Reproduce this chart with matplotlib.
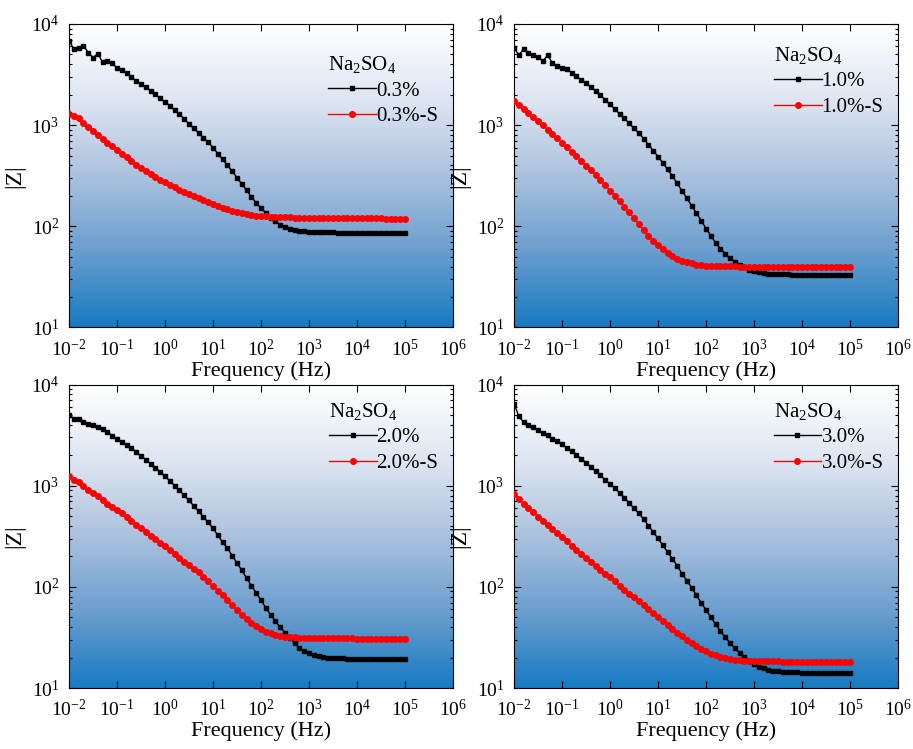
import matplotlib
matplotlib.use("Agg")
import matplotlib.pyplot as plt
import numpy as np
from matplotlib.colors import LinearSegmentedColormap

plt.rcParams['font.family'] = ['Liberation Serif', 'DejaVu Serif']
plt.rcParams['mathtext.fontset'] = 'custom'
plt.rcParams['mathtext.rm'] = 'Liberation Serif'
plt.rcParams['mathtext.it'] = 'Liberation Serif:italic'
plt.rcParams['mathtext.bf'] = 'Liberation Serif:bold'
plt.rcParams['axes.unicode_minus'] = False

# frequency sweep, 10 points per decade (Hz)
freq = [0.01, 0.0126, 0.0158, 0.02, 0.0251, 0.0316, 0.0398, 0.0501, 0.0631, 0.0794,
        0.1, 0.126, 0.158, 0.2, 0.251, 0.316, 0.398, 0.501, 0.631, 0.794,
        1, 1.26, 1.58, 2, 2.51, 3.16, 3.98, 5.01, 6.31, 7.94,
        10, 12.6, 15.8, 20, 25.1, 31.6, 39.8, 50.1, 63.1, 79.4,
        100, 126, 158, 200, 251, 316, 398, 501, 631, 794,
        1000, 1260, 1580, 2000, 2510, 3160, 3980, 5010, 6310, 7940,
        10000, 12600, 15800, 20000, 25100, 31600, 39800, 50100, 63100, 79400,
        100000]

# |Z| for each electrolyte concentration (ohm)
z_03 = [6850, 5640, 5770, 6120, 5220, 4660, 5070, 4200, 4300, 4160,
        3630, 3470, 3270, 2980, 2730, 2550, 2360, 2190, 2010, 1840,
        1700, 1555, 1410, 1290, 1150, 1030, 927, 835, 750, 680,
        598, 524, 459, 402, 350, 302, 262, 227, 196, 170,
        151, 136, 122, 112, 104, 98.6, 94.8, 92.7, 90.7, 89.3,
        88.7, 88.2, 87.8, 87.5, 87.2, 87.0, 86.8, 86.7, 86.6, 86.5,
        86.4, 86.4, 86.3, 86.3, 86.2, 86.2, 86.1, 86.1, 86.0, 86.0, 86.0]
z_03s = [1300, 1220, 1175, 1040, 957, 874, 798, 734, 670, 616,
         572, 522, 488, 445, 407, 380, 352, 329, 307, 289,
         272, 256, 243, 230, 218, 209, 198, 189, 181, 173,
         165, 157, 152, 147, 143, 139, 136, 132, 130, 127,
         126, 125, 124.5, 124, 123.5, 123, 122.5, 122, 122, 121.5,
         121.5, 121, 121, 121, 120.5, 120.5, 120.5, 120, 120, 120,
         120, 120, 119.5, 119.5, 119.5, 119.5, 119, 119, 119, 119, 118.5]
z_10 = [5810, 4920, 5640, 5190, 4990, 4700, 4290, 4920, 4100, 3880,
        3630, 3550, 3310, 3030, 2810, 2600, 2380, 2190, 2000, 1770,
        1600, 1440, 1290, 1165, 1040, 927, 835, 734, 641, 560,
        488, 423, 365, 314, 265, 224, 189, 160, 135, 114,
        94.8, 80.9, 69.0, 60.2, 53.4, 48.3, 44.5, 41.9, 39.4, 37.4,
        36.0, 35.2, 34.7, 34.1, 33.8, 33.6, 33.5, 33.4, 33.3, 33.3,
        33.2, 33.2, 33.2, 33.1, 33.1, 33.1, 33.1, 33.0, 33.0, 33.0, 33.0]
z_10s = [1740, 1580, 1440, 1316, 1200, 1105, 1000, 901, 817, 739,
         670, 608, 546, 491, 442, 398, 357, 322, 287, 254,
         225, 201, 177, 155, 137, 120, 105, 92, 80.9, 72.3,
         65.0, 59.3, 54.2, 50.6, 48.0, 45.8, 44.1, 42.9, 41.9, 41.2,
         40.6, 40.4, 40.3, 40.2, 40.2, 40.1, 40.1, 40.0, 40.0, 40.0,
         40.0, 40.0, 40.0, 40.0, 39.9, 39.9, 39.9, 39.9, 39.9, 39.9,
         39.8, 39.8, 39.8, 39.8, 39.8, 39.8, 39.7, 39.7, 39.7, 39.7, 39.7]
z_20 = [5050, 4600, 4570, 4300, 4110, 3990, 3840, 3640, 3370, 3130,
        2900, 2710, 2550, 2340, 2160, 1970, 1810, 1650, 1510, 1370,
        1240, 1115, 1000, 899, 802, 716, 630, 557, 493, 433,
        381, 322, 277, 240, 204, 172, 146, 122, 103, 87,
        74, 61.9, 53.2, 45.7, 39.9, 35.3, 31.5, 27.7, 25.1, 23.2,
        22.0, 21.2, 20.6, 20.3, 19.9, 19.8, 19.7, 19.6, 19.5, 19.5,
        19.4, 19.4, 19.4, 19.3, 19.3, 19.3, 19.3, 19.2, 19.2, 19.2, 19.2]
z_20s = [1256, 1145, 1078, 984, 912, 845, 783, 716, 663, 615,
         574, 532, 490, 450, 411, 381, 348, 320, 294, 273,
         251, 231, 212, 194, 178, 164, 151, 139, 125, 113,
         102, 92, 83, 74, 65.9, 58.8, 53.2, 48.2, 44.0, 40.8,
         38.1, 36.1, 34.8, 33.5, 32.7, 32.2, 31.8, 31.6, 31.4, 31.3,
         31.2, 31.2, 31.1, 31.1, 31.0, 31.0, 31.0, 30.9, 30.9, 30.9,
         30.8, 30.8, 30.8, 30.7, 30.7, 30.7, 30.6, 30.6, 30.6, 30.5, 30.5]
z_30 = [6490, 4850, 4230, 3960, 3810, 3530, 3300, 3150, 2900, 2750,
        2560, 2360, 2190, 2010, 1850, 1690, 1540, 1390, 1265, 1145,
        1040, 949, 847, 761, 674, 596, 532, 468, 402, 348,
        301, 258, 220, 189, 162, 135, 115, 98.4, 82.4, 69.5,
        59.2, 50.1, 42.8, 36.6, 31.8, 27.9, 24.7, 22.2, 20.1, 18.5,
        17.3, 16.3, 15.7, 15.2, 14.8, 14.6, 14.5, 14.4, 14.3, 14.3,
        14.2, 14.2, 14.2, 14.1, 14.1, 14.1, 14.1, 14.0, 14.0, 14.0, 14.0]
z_30s = [820, 738, 663, 606, 549, 493, 447, 411, 372, 337,
         308, 281, 256, 232, 212, 194, 177, 161, 148, 135,
         124, 113, 103, 94.0, 85.9, 79.1, 73.1, 66.8, 61.0, 55.7,
         50.8, 46.4, 42.1, 38.4, 35.3, 32.7, 30.1, 27.9, 25.9, 24.3,
         23.1, 21.9, 21.1, 20.4, 19.8, 19.4, 19.1, 18.8, 18.6, 18.5,
         18.4, 18.4, 18.3, 18.3, 18.3, 18.3, 18.2, 18.2, 18.2, 18.2,
         18.2, 18.2, 18.2, 18.1, 18.1, 18.1, 18.1, 18.1, 18.1, 18.1, 18.1]

labels = ["0.3%", "1.0%", "2.0%", "3.0%"]
series = [(z_03, z_03s), (z_10, z_10s), (z_20, z_20s), (z_30, z_30s)]
legend_y = [0.95, 0.98, 0.995, 0.995]

# white at the top fading into blue at the bottom
bg = LinearSegmentedColormap.from_list(
    "bg", [(0.0, (1, 1, 1)), (0.25, (0.87, 0.90, 0.95)), (0.5, (0.67, 0.76, 0.87)),
           (0.75, (0.42, 0.62, 0.81)), (1.0, (0.09, 0.48, 0.76))])
grad = np.linspace(0, 1, 256).reshape(-1, 1)

fig, axes = plt.subplots(2, 2, figsize=(9.13, 7.49), dpi=100)
plt.subplots_adjust(left=0.0756, right=0.9836, top=0.968, bottom=0.0814,
                    wspace=0.159, hspace=0.188)

for ax, lab, (zb, zr), ly in zip(axes.flat, labels, series, legend_y):
    ax.set_xscale('log')
    ax.set_yscale('log')
    ax.imshow(grad, cmap=bg, aspect='auto', origin='upper', extent=[0, 1, 0, 1],
              transform=ax.transAxes, zorder=0)
    ax.plot(freq, zb, '-s', color='black', lw=1, ms=3.5, label=lab, zorder=3)
    ax.plot(freq, zr, '-o', color='red', lw=1, ms=4, label=lab + "-S", zorder=3)
    ax.set_xlim(1e-2, 1e6)
    ax.set_ylim(1e1, 1e4)
    ax.set_xticks([1e-2, 1e-1, 1e0, 1e1, 1e2, 1e3, 1e4, 1e5, 1e6])
    ax.tick_params(which='both', direction='in', top=True, right=True,
                   labelsize=14, width=0.8)
    ax.tick_params(which='major', length=5)
    ax.tick_params(axis='x', which='major', pad=8)
    ax.tick_params(axis='y', which='major', pad=7)
    ax.tick_params(which='minor', length=2.5)
    ax.set_xlabel("Frequency (Hz)", fontsize=16, labelpad=1)
    ax.set_ylabel("|Z|", fontsize=17, labelpad=4)
    leg = ax.legend(title="Na$_2$SO$_4$", loc='upper right', bbox_to_anchor=(1.0, ly),
                    frameon=False, fontsize=15, title_fontsize=15, numpoints=1,
                    handlelength=2.3, handletextpad=0.0, labelspacing=0.3,
                    borderaxespad=0.3, alignment='left')

fig.savefig("out.png", dpi=100)
